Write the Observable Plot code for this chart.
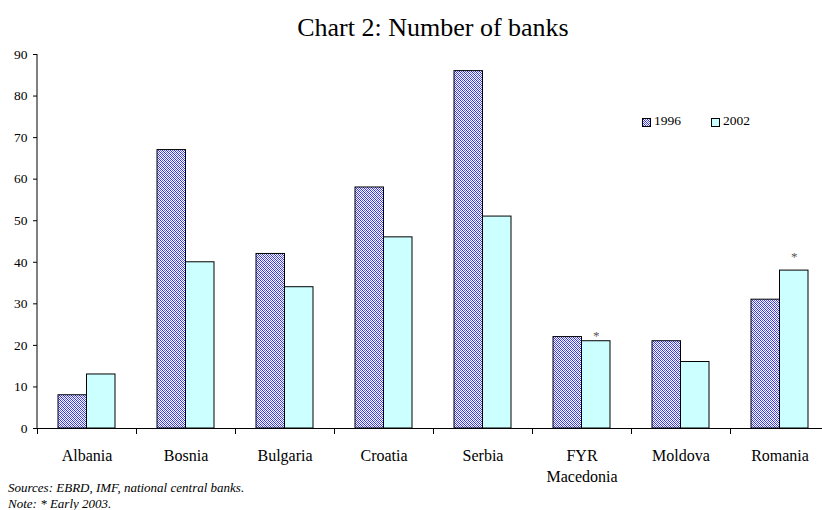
<!DOCTYPE html>
<html>
<head>
<meta charset="utf-8">
<script src="https://cdn.jsdelivr.net/npm/d3@7"></script>
<script src="https://cdn.jsdelivr.net/npm/@observablehq/plot@0.6"></script>
<style>
  html, body { margin: 0; padding: 0; background: #fff; }
  body { width: 822px; height: 510px; position: relative; overflow: hidden;
         font-family: "Liberation Serif", "Times New Roman", Times, serif; color: #000; }
  #title { position: absolute; top: 15px; left: 37px; width: 792px; text-align: center;
           font-size: 26px; line-height: 26px; }
  #chart { position: absolute; top: 44px; left: 0; }
  #chart svg, #chart svg text { font-family: "Liberation Serif", "Times New Roman", Times, serif !important; }
  #legend { position: absolute; top: 113px; left: 642px; font-size: 13.5px; line-height: 16px; white-space: nowrap; }
  #legend .item { position: absolute; top: 0; }
  #legend svg { position: absolute; top: 5px; left: 0; }
  #legend span { position: absolute; left: 12px; top: 0; }
  #caption { position: absolute; top: 480px; left: 8px; font-size: 13px; line-height: 16px;
             font-style: italic; font-family: "Liberation Serif", "Times New Roman", Times, serif; }
  #defs { position: absolute; width: 0; height: 0; }
</style>
</head>
<body>
<svg id="defs" width="0" height="0">
  <defs>
    <pattern id="hatch" patternUnits="userSpaceOnUse" width="4" height="4" shape-rendering="crispEdges">
      <rect width="4" height="4" fill="#ffffff"/>
      <rect x="0" y="0" width="1" height="1" fill="#3030e0"/>
      <rect x="1" y="1" width="1" height="1" fill="#3030e0"/>
      <rect x="2" y="2" width="1" height="1" fill="#3030e0"/>
      <rect x="3" y="3" width="1" height="1" fill="#3030e0"/>
      <rect x="2" y="0" width="1" height="1" fill="#6060ff"/>
      <rect x="3" y="1" width="1" height="1" fill="#6060ff"/>
      <rect x="0" y="2" width="1" height="1" fill="#6060ff"/>
      <rect x="1" y="3" width="1" height="1" fill="#6060ff"/>
    </pattern>
  </defs>
</svg>
<div id="title">Chart 2: Number of banks</div>
<div id="chart"></div>
<div id="legend"></div>
<div id="caption">Sources: EBRD, IMF, national central banks.<br>Note: * Early 2003.</div>
<script>
// ---- data ----
const categories = ["Albania", "Bosnia", "Bulgaria", "Croatia", "Serbia", "FYR\nMacedonia", "Moldova", "Romania"];
const v1996 = [8, 67, 42, 58, 86, 22, 21, 31];
const v2002 = [13, 40, 34, 46, 51, 21, 16, 38];
const years = ["1996", "2002"];
const starred = ["FYR\nMacedonia", "Romania"];   // 2002 value is early 2003
const yTicks = [0, 10, 20, 30, 40, 50, 60, 70, 80, 90];

const fills = {"1996": "url(#hatch)", "2002": "#ccffff"};

const rows1996 = categories.map((c, i) => ({category: c, value: v1996[i]}));
const rows2002 = categories.map((c, i) => ({category: c, value: v2002[i]}));
const starRows = rows2002.filter(d => starred.includes(d.category));

const W = 822, H = 444;
const marginLeft = 37, marginRight = -7;
const band = (W - marginLeft - marginRight) / categories.length;
const serif = '"Liberation Serif", "Times New Roman", Times, serif';

const yAxisLine = (index, scales, values, dims) => {
  const g = d3.create("svg:line")
    .attr("x1", dims.marginLeft).attr("x2", dims.marginLeft)
    .attr("y1", dims.marginTop).attr("y2", dims.height - dims.marginBottom)
    .attr("stroke", "#000").attr("stroke-width", 1);
  return g.node();
};

const starMark = (rows, dy) => Plot.text(rows, {x: "category", y: "value", text: () => "*",
  dx: band / 2 - 35.25, dy, lineAnchor: "bottom", fontSize: 13, fill: "#555", fontFamily: serif});

const chart = Plot.plot({
  width: W,
  height: H,
  marginLeft, marginRight,
  marginTop: 10,
  marginBottom: 60,
  style: {fontFamily: serif, color: "#000", background: "#fff", overflow: "visible"},
  x: {domain: categories, padding: 0, label: null},
  y: {domain: [0, 90], label: null},
  marks: [
    Plot.barY(rows1996, {x: "category", y: "value", fill: fills["1996"], stroke: "#000", strokeWidth: 1,
      insetLeft: 21, insetRight: 49.5}),
    Plot.barY(rows2002, {x: "category", y: "value", fill: fills["2002"], stroke: "#000", strokeWidth: 1,
      insetLeft: 49.5, insetRight: 21}),
    starMark(starRows.slice(0, 1), -1),
    starMark(starRows.slice(1), -9.5),
    Plot.ruleY([0], {stroke: "#000", strokeWidth: 1}),
    yAxisLine,
    Plot.axisY({ticks: yTicks, tickSize: 4, tickPadding: 6, fontSize: 13.5, label: null,
      fontFamily: serif, tickFormat: d => String(d)}),
    Plot.axisX({tickSize: 6, tickFormat: () => null, label: null, dx: -band / 2}),
    Plot.axisX({tickSize: 0, tickPadding: 18, fontSize: 16, lineHeight: 1.3, label: null, fontFamily: serif})
  ]
});
document.getElementById("chart").appendChild(chart);

// legend
const legend = document.getElementById("legend");
const legendX = {"1996": 0, "2002": 69};
years.forEach(y => {
  const item = document.createElement("div");
  item.className = "item";
  item.style.left = legendX[y] + "px";
  item.innerHTML = `<svg width="9" height="9"><rect x="0.5" y="0.5" width="8" height="8" fill="${fills[y]}" stroke="#000" stroke-width="1"/></svg><span>${y}</span>`;
  legend.appendChild(item);
});
</script>
</body>
</html>
